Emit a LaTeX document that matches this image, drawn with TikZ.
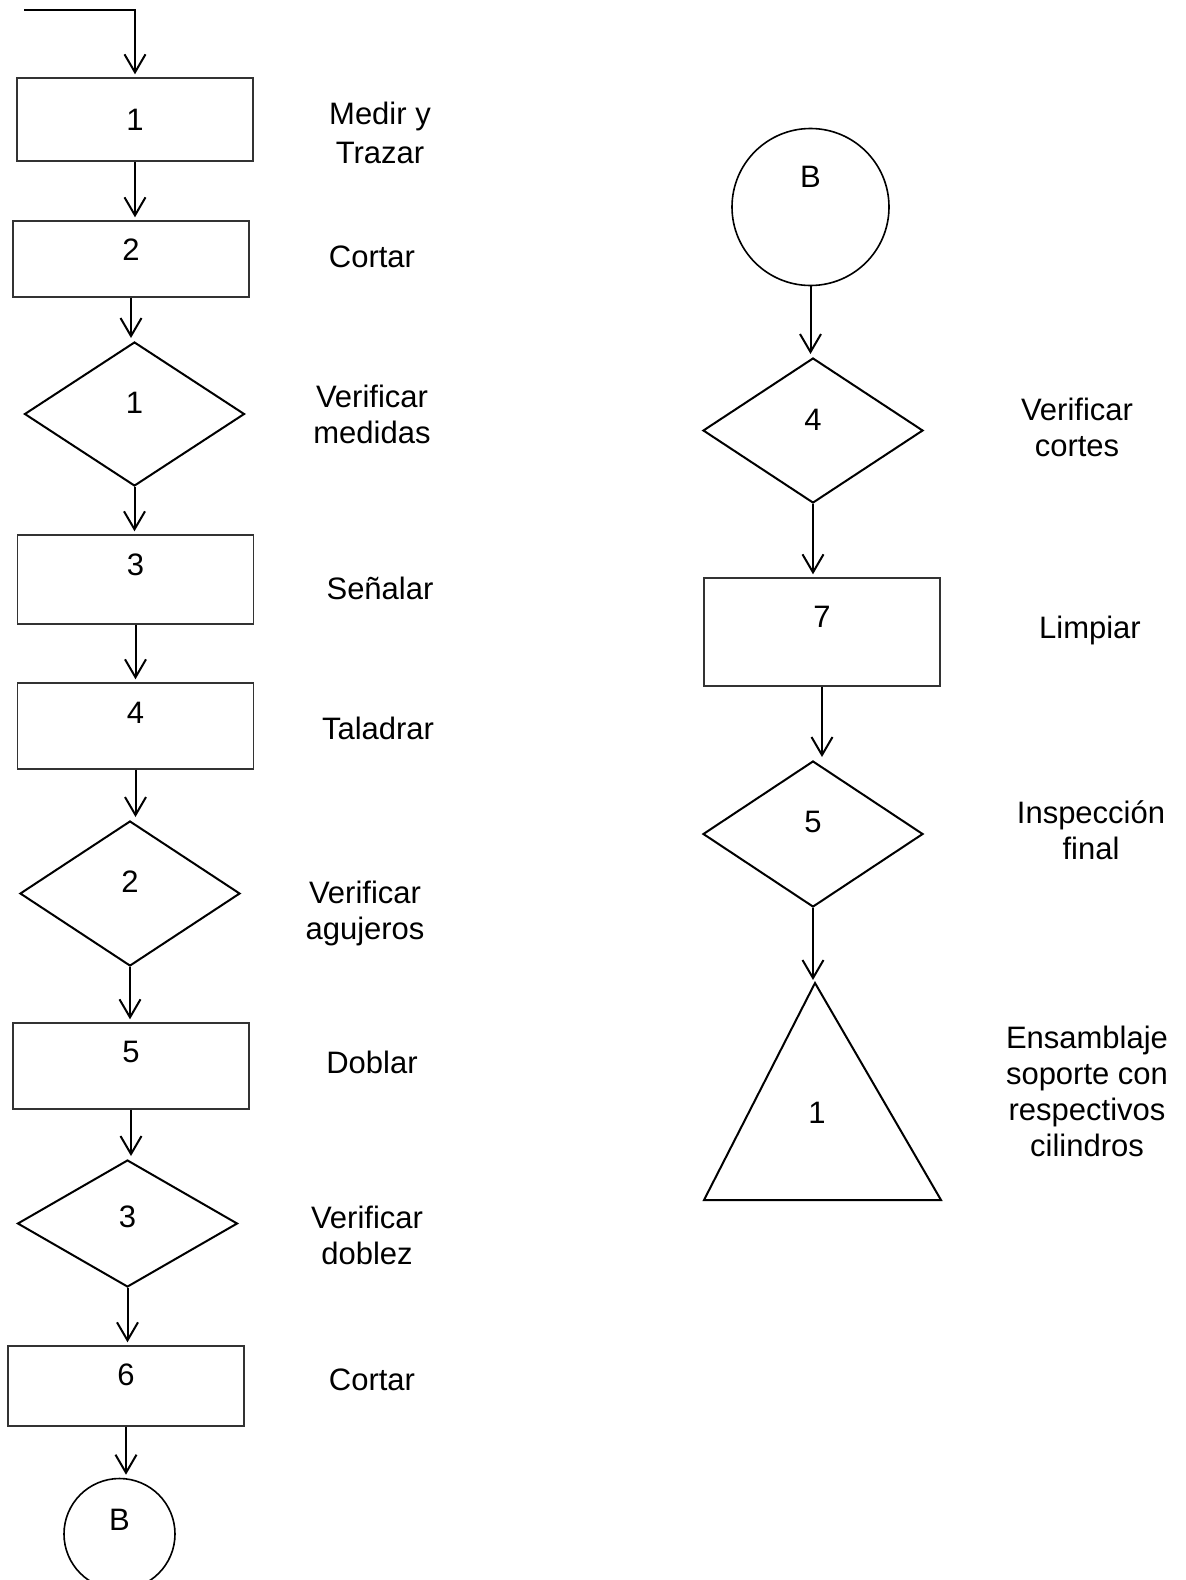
\documentclass[tikz,border=0pt]{standalone}
\usepackage{fontspec}
\setmainfont{Liberation Sans}
\usetikzlibrary{positioning,shapes.geometric,arrows.meta}

\begin{document}
\begin{tikzpicture}[x=0.5pt, y=-0.5pt,
        font=\fontsize{15.5}{18}\selectfont,
        flecha/.style={line width=1pt, -{Straight Barb[length=9pt,width=10.5pt]}, shorten >=1.5pt},
        caja/.style={draw=black!80, line width=0.7pt, minimum width=118pt, inner sep=0pt},
        rombo/.style={diamond, draw, line width=1pt, minimum width=110pt, inner sep=0pt},
        conector/.style={circle, draw, line width=0.8pt, inner sep=0pt},
        texto/.style={align=center}]

    \useasboundingbox (0,0) rectangle (1185,1580);
    \clip (0,0) rectangle (1185,1580);

    % columna izquierda
    \coordinate (inicio) at (24,10);
    \node[caja, minimum height=41.5pt, label=center:1] (op1) at (135,119.5) {};
    \node[caja, minimum height=38pt, label={[yshift=4.5pt]center:2}] (op2) at (131,259) {};
    \node[rombo, minimum height=72pt, label={[yshift=5.5pt]center:1}] (insp1) at (134.5,414) {};
    \node[caja, minimum height=44.5pt, label={[yshift=7.25pt]center:3}] (op3) at (135.5,579.5) {};
    \node[caja, minimum height=43pt, label={[yshift=6.5pt]center:4}] (op4) at (135.5,726) {};
    \node[rombo, minimum height=72.5pt, label={[yshift=5.75pt]center:2}] (insp2) at (130,893.5) {};
    \node[caja, minimum height=43pt, label={[yshift=7pt]center:5}] (op5) at (131,1066) {};
    \node[rombo, minimum height=63.5pt, label={[yshift=3.25pt]center:3}] (insp3) at (127.5,1223.5) {};
    \node[caja, minimum height=40pt, label={[yshift=5.5pt]center:6}] (op6) at (126,1386) {};
    \node[conector, minimum size=55.5pt, label={[yshift=7pt]center:B}] (conB1) at (119.5,1534) {};

    \node[texto] (t-op1) at (380,132.5) {Medir y\\[1.5pt]Trazar};
    \node[texto] (t-op2) at (372,257) {Cortar};
    \node[texto] (t-insp1) at (372,414.5) {Verificar\\medidas};
    \node[texto] (t-op3) at (380,588) {Señalar};
    \node[texto] (t-op4) at (378,728) {Taladrar};
    \node[texto] (t-insp2) at (365,913.5) {Verificar\\agujeros};
    \node[texto] (t-op5) at (372,1062) {Doblar};
    \node[texto] (t-insp3) at (367,1235) {Verificar\\doblez};
    \node[texto] (t-op6) at (372,1380) {Cortar};

    \draw[flecha] (inicio) -| (op1.north);
    \draw[flecha] (op1.south) -- (op1.south |- op2.north);
    \draw[flecha] (op2.south) -- (op2.south |- insp1.north);
    \draw[flecha] (insp1.south) -- (insp1.south |- op3.north);
    \draw[flecha] (op3.south) -- (op3.south |- op4.north);
    \draw[flecha] (op4.south) -- (op4.south |- insp2.north);
    \draw[flecha] (insp2.south) -- (insp2.south |- op5.north);
    \draw[flecha] (op5.south) -- (op5.south |- insp3.north);
    \draw[flecha] (insp3.south) -- (insp3.south |- op6.north);
    \draw[flecha] (op6.south) -- (op6.south |- conB1.north);

    % columna derecha
    \node[conector, minimum size=78.5pt, label={[yshift=15pt]center:B}] (conB2) at (810.5,207) {};
    \node[rombo, minimum height=72.5pt, label={[yshift=5.25pt]center:4}] (insp4) at (813,430.5) {};
    \node[caja, minimum height=54pt, label={[yshift=7.5pt]center:7}] (op7) at (822,632) {};
    \node[rombo, minimum height=73pt, label={[yshift=6pt]center:5}] (insp5) at (813,834) {};

    % triangulo de ensamble
    \coordinate (ensA) at (815,983);
    \coordinate (ensB) at (704,1200);
    \coordinate (ensC) at (941,1200);
    \draw[line width=1pt] (ensA) -- (ensC) -- (ensB) -- cycle;
    \node (n-ens) at (817,1113) {1};

    \node[texto] (t-insp4) at (1077,427.5) {Verificar\\cortes};
    \node[texto] (t-op7) at (1090,630) {Limpiar};
    \node[texto] (t-insp5) at (1091,830.5) {Inspección\\final};
    \node[texto] (t-ens) at (1087,1091) {Ensamblaje\\soporte con\\respectivos\\cilindros};

    \draw[flecha] (conB2.south) -- (conB2.south |- insp4.north);
    \draw[flecha] (insp4.south) -- (insp4.south |- op7.north);
    \draw[flecha] (op7.south) -- (op7.south |- insp5.north);
    \draw[flecha] (insp5.south) -- (insp5.south |- ensA);
\end{tikzpicture}
\end{document}
